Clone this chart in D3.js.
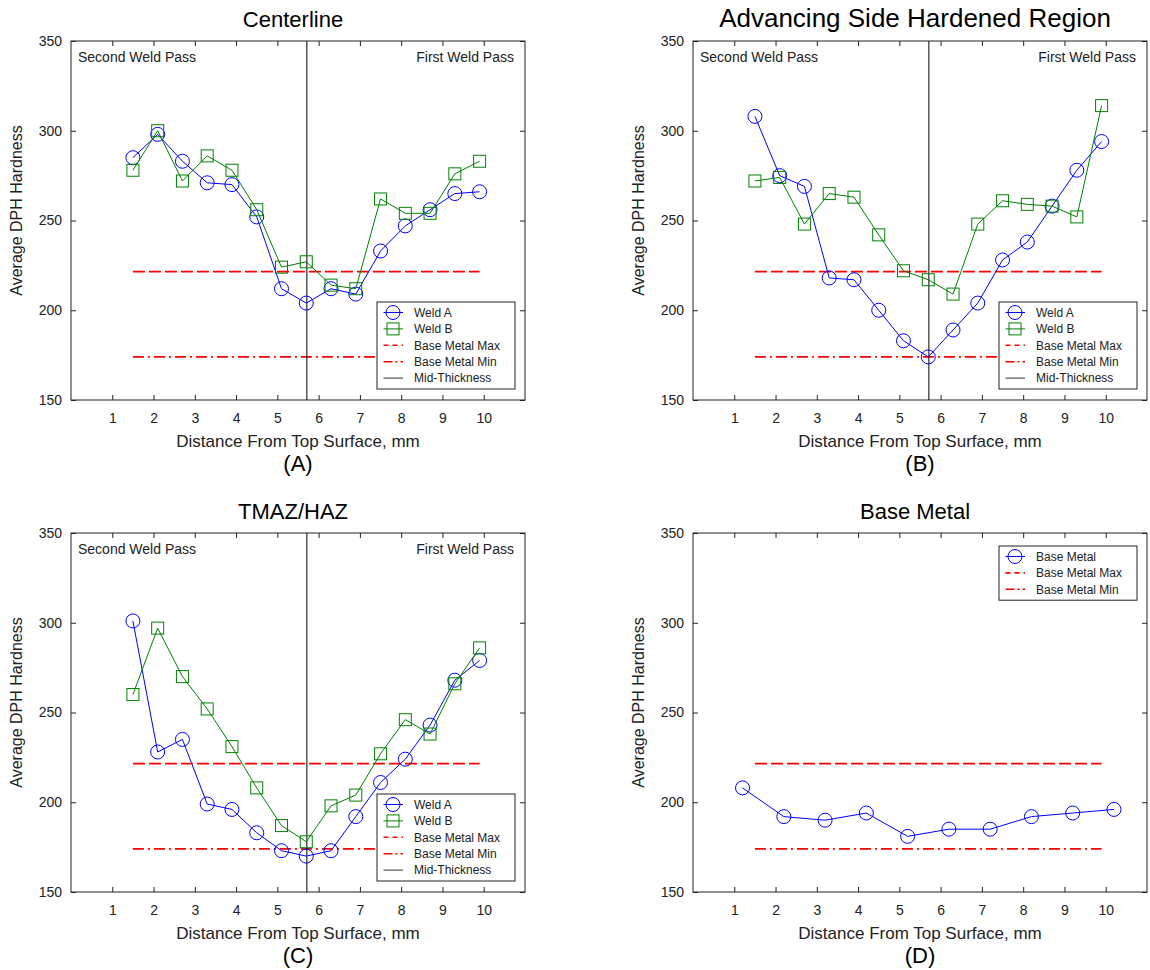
<!DOCTYPE html>
<html>
<head>
<meta charset="utf-8">
<script src="https://cdn.jsdelivr.net/npm/d3@7"></script>
<style>
  body { margin: 0; background: #fff; }
  svg { display: block; font-family: Arial, "Liberation Sans", sans-serif; }
</style>
</head>
<body>
<svg width="1150" height="970"></svg>
<script>
// distances (mm) of the hardness indents
var weldDist = [1.5, 2.1, 2.7, 3.3, 3.9, 4.5, 5.1, 5.7, 6.3, 6.9, 7.5, 8.1, 8.7, 9.3, 9.9];
var baseDist = [1.2, 2.2, 3.2, 4.2, 5.2, 6.2, 7.2, 8.2, 9.2, 10.2];

// average DPH hardness
var centerWeldA = [285, 298, 283, 271, 270, 252, 212, 204, 212, 209, 233, 247, 256, 265, 266];
var centerWeldB = [278, 300, 272, 286, 278, 256, 224, 227, 214, 212, 262, 254, 254, 276, 283];
var advWeldA = [308, 275, 269, 218, 217, 200, 183, 174, 189, 204, 228, 238, 258, 278, 294];
var advWeldB = [272, 274, 248, 265, 263, 242, 222, 217, 209, 248, 261, 259, 258, 252, 314];
var tmazWeldA = [301, 228, 235, 199, 196, 183, 173, 170, 173, 192, 211, 224, 243, 268, 279];
var tmazWeldB = [260, 297, 270, 252, 231, 208, 187, 178, 198, 204, 227, 246, 238, 266, 286];
var baseMetal = [208, 192, 190, 194, 181, 185, 185, 192, 194, 196];

// base metal limits and their drawn extent
var baseMax = 221.5;
var baseMin = 174;
var limitExtent = [1.5, 9.9];
var midThickness = 5.715;

var xTicks = [1, 2, 3, 4, 5, 6, 7, 8, 9, 10];
var yTicks = [150, 200, 250, 300, 350];
var xDomain = [0, 11];
var yDomain = [150, 350];

var panels = [
    {label: '(A)', title: 'Centerline', titleSize: 22, left: 71, top: 41, passes: true,
     series: [{name: 'Weld A', x: weldDist, y: centerWeldA, marker: 'circle'},
              {name: 'Weld B', x: weldDist, y: centerWeldB, marker: 'square'}]},
    {label: '(B)', title: 'Advancing Side Hardened Region', titleSize: 26, left: 693, top: 41, passes: true,
     series: [{name: 'Weld A', x: weldDist, y: advWeldA, marker: 'circle'},
              {name: 'Weld B', x: weldDist, y: advWeldB, marker: 'square'}]},
    {label: '(C)', title: 'TMAZ/HAZ', titleSize: 22, left: 71, top: 533, passes: true,
     series: [{name: 'Weld A', x: weldDist, y: tmazWeldA, marker: 'circle'},
              {name: 'Weld B', x: weldDist, y: tmazWeldB, marker: 'square'}]},
    {label: '(D)', title: 'Base Metal', titleSize: 22, left: 693, top: 533, passes: false,
     series: [{name: 'Base Metal', x: baseDist, y: baseMetal, marker: 'circle'}]}
];

var W = 454, H = 359;
var BLUE = '#0000ff', GREEN = '#008000', RED = '#ff0000', INK = '#222';
var dashMax = '12,4', dashMin = '11,4,2,4';

var svg = d3.select('svg');
svg.append('rect').attr('width', 1150).attr('height', 970).attr('fill', '#fff');

panels.forEach(function (p) { drawPanel(p); });

function drawMarker(g, type, cx, cy, color) {
    if (type === 'circle') {
        g.append('circle').attr('cx', cx).attr('cy', cy).attr('r', 7)
            .attr('fill', 'none').attr('stroke', color).attr('stroke-width', 1);
    } else {
        g.append('rect').attr('x', cx - 6).attr('y', cy - 6).attr('width', 12).attr('height', 12)
            .attr('fill', 'none').attr('stroke', color).attr('stroke-width', 1);
    }
}

function drawPanel(p) {
    var x = d3.scaleLinear().domain(xDomain).range([p.left, p.left + W]);
    var y = d3.scaleLinear().domain(yDomain).range([p.top + H, p.top]);
    var bottom = p.top + H, right = p.left + W, cx = p.left + W / 2;
    var g = svg.append('g');

    // axes box
    g.append('rect').attr('x', p.left).attr('y', p.top).attr('width', W).attr('height', H)
        .attr('fill', '#fff').attr('stroke', INK).attr('stroke-width', 1);

    var ax = [
        g.append('g').attr('transform', 'translate(0,' + bottom + ')')
            .call(d3.axisBottom(x).tickValues(xTicks).tickSize(-5).tickPadding(13)),
        g.append('g').attr('transform', 'translate(0,' + p.top + ')')
            .call(d3.axisTop(x).tickValues(xTicks).tickSize(-5).tickFormat('')),
        g.append('g').attr('transform', 'translate(' + p.left + ',0)')
            .call(d3.axisLeft(y).tickValues(yTicks).tickSize(-5).tickPadding(9)),
        g.append('g').attr('transform', 'translate(' + right + ',0)')
            .call(d3.axisRight(y).tickValues(yTicks).tickSize(-5).tickFormat(''))
    ];
    ax.forEach(function (a) {
        a.select('.domain').remove();
        a.selectAll('line').attr('stroke', INK);
        a.selectAll('text').attr('fill', INK).style('font-size', '14px')
            .style('font-family', 'Arial, "Liberation Sans", sans-serif');
    });

    // titles and labels
    g.append('text').attr('x', cx - 5).attr('y', p.top - 14).attr('text-anchor', 'middle')
        .style('font-size', p.titleSize + 'px').attr('fill', '#000').text(p.title);
    g.append('text').attr('x', cx).attr('y', bottom + 47).attr('text-anchor', 'middle')
        .style('font-size', '17px').attr('fill', INK).text('Distance From Top Surface, mm');
    g.append('text').attr('x', cx).attr('y', bottom + 71).attr('text-anchor', 'middle')
        .style('font-size', '22px').attr('fill', '#000').text(p.label);
    g.append('text').attr('transform', 'translate(' + (p.left - 49) + ',' + (p.top + H / 2 - 10) + ') rotate(-90)')
        .attr('text-anchor', 'middle').style('font-size', '16px').attr('fill', INK)
        .text('Average DPH Hardness');

    if (p.passes) {
        g.append('text').attr('x', p.left + 7).attr('y', p.top + 21)
            .style('font-size', '14px').attr('fill', INK).text('Second Weld Pass');
        g.append('text').attr('x', right - 11).attr('y', p.top + 21).attr('text-anchor', 'end')
            .style('font-size', '14px').attr('fill', INK).text('First Weld Pass');
    }

    // base metal limits
    g.append('line').attr('x1', x(limitExtent[0])).attr('x2', x(limitExtent[1]))
        .attr('y1', y(baseMax)).attr('y2', y(baseMax))
        .attr('stroke', RED).attr('stroke-width', 1.8).attr('stroke-dasharray', dashMax);
    g.append('line').attr('x1', x(limitExtent[0])).attr('x2', x(limitExtent[1]))
        .attr('y1', y(baseMin)).attr('y2', y(baseMin))
        .attr('stroke', RED).attr('stroke-width', 1.8).attr('stroke-dasharray', dashMin);

    if (p.passes) {
        g.append('line').attr('x1', x(midThickness)).attr('x2', x(midThickness))
            .attr('y1', p.top).attr('y2', bottom).attr('stroke', '#000').attr('stroke-width', 1);
    }

    // series
    p.series.forEach(function (s) {
        var color = s.marker === 'circle' ? BLUE : GREEN;
        var pts = s.x.map(function (d, i) { return [d, s.y[i]]; });
        var line = d3.line().x(function (d) { return x(d[0]); }).y(function (d) { return y(d[1]); });
        g.append('path').attr('d', line(pts)).attr('fill', 'none')
            .attr('stroke', color).attr('stroke-width', 1);
        pts.forEach(function (d) { drawMarker(g, s.marker, x(d[0]), y(d[1]), color); });
    });

    // legend
    var items = p.series.map(function (s) {
        return {name: s.name, marker: s.marker, color: s.marker === 'circle' ? BLUE : GREEN};
    });
    items.push({name: 'Base Metal Max', dash: '5,4', color: RED});
    items.push({name: 'Base Metal Min', dash: '9,3,2,3', color: RED});
    if (p.passes) items.push({name: 'Mid-Thickness', color: '#333'});

    var lw = 138, lh = items.length * 16.4 + 5;
    var lx = right - 148;
    var ly = p.passes ? bottom - 11 - lh : p.top + 13;
    var lg = g.append('g');
    lg.append('rect').attr('x', lx).attr('y', ly).attr('width', lw).attr('height', lh)
        .attr('fill', '#fff').attr('stroke', INK).attr('stroke-width', 1);
    items.forEach(function (it, i) {
        var ry = ly + 10.5 + i * 16.4;
        var ln = lg.append('line').attr('x1', lx + 6.5).attr('x2', lx + 26)
            .attr('y1', ry).attr('y2', ry).attr('stroke', it.color)
            .attr('stroke-width', it.dash ? 1.6 : 1);
        if (it.dash) ln.attr('stroke-dasharray', it.dash);
        if (it.marker) drawMarker(lg, it.marker, lx + 16, ry, it.color);
        lg.append('text').attr('x', lx + 37).attr('y', ry).attr('dy', '0.35em')
            .style('font-size', '12px').attr('fill', INK).text(it.name);
    });
}
</script>
</body>
</html>
